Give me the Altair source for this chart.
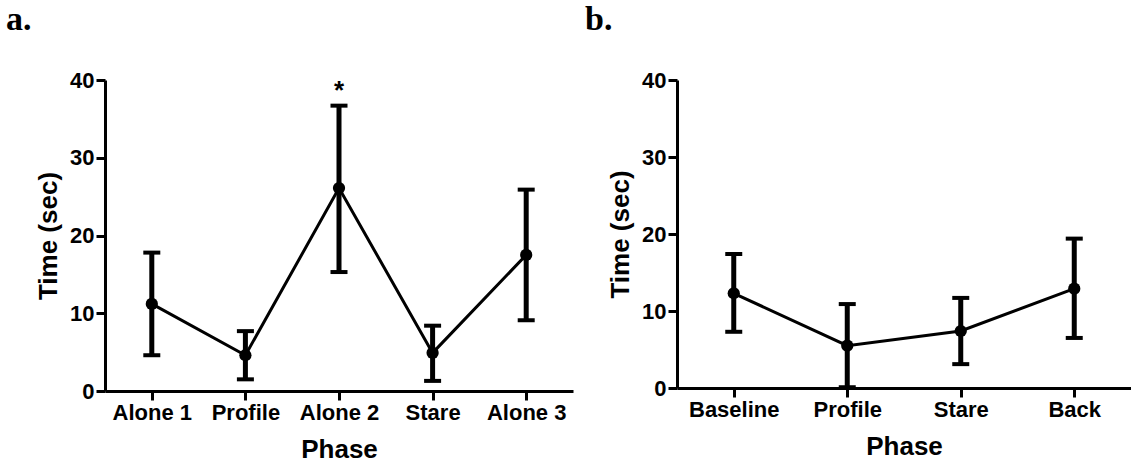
import altair as alt
import pandas as pd

# ---- data ----
phases_a = ["Alone 1", "Profile", "Alone 2", "Stare", "Alone 3"]
mean_a = [11.2, 4.6, 26.1, 4.9, 17.5]
upper_a = [17.8, 7.7, 36.7, 8.4, 25.9]
lower_a = [4.6, 1.5, 15.3, 1.3, 9.1]

phases_b = ["Baseline", "Profile", "Stare", "Back"]
mean_b = [12.3, 5.5, 7.4, 12.9]
upper_b = [17.4, 10.9, 11.7, 19.4]
lower_b = [7.3, 0.1, 3.1, 6.5]

sig_phase = ["Alone 2"]
sig_text = ["*"]
sig_y = [36.7]

y_ticks = [0, 10, 20, 30, 40]

FONT = "Liberation Sans"


def panel(phases, mean, upper, lower, title, width, height, title_dx, sig=None):
    df = pd.DataFrame({"phase": phases, "mean": mean, "hi": upper, "lo": lower})
    x = alt.X(
        "phase:N",
        sort=phases,
        scale=alt.Scale(type="point", padding=0.5),
        axis=alt.Axis(title="Phase", labelAngle=0),
    )
    y = alt.Y(
        "mean:Q",
        scale=alt.Scale(domain=[0, 40], nice=False, zero=True),
        axis=alt.Axis(title="Time (sec)", values=y_ticks),
    )
    base = alt.Chart(df)
    line = base.mark_line(color="black", strokeWidth=3).encode(x=x, y=y)
    bar = base.mark_rule(color="black", strokeWidth=5, opacity=1).encode(
        x=x, y=alt.Y("lo:Q"), y2="hi:Q"
    )
    cap_hi = base.mark_tick(color="black", thickness=4, size=17, opacity=1).encode(
        x=x, y=alt.Y("hi:Q"))
    cap_lo = base.mark_tick(color="black", thickness=4, size=17, opacity=1).encode(
        x=x, y=alt.Y("lo:Q"))
    pts = base.mark_point(filled=True, color="black", size=150, opacity=1).encode(x=x, y=y)
    layers = [bar, cap_hi, cap_lo, line, pts]
    if sig is not None:
        sdf = pd.DataFrame({"phase": sig[0], "txt": sig[1], "y": sig[2]})
        star = alt.Chart(sdf).mark_text(
            font=FONT, fontSize=26, fontWeight="bold", color="black",
            baseline="alphabetic", dy=-7,
        ).encode(x=alt.X("phase:N", sort=phases), y=alt.Y("y:Q"), text="txt:N")
        layers.append(star)
    return alt.layer(*layers).properties(
        width=width,
        height=height,
        title=alt.TitleParams(
            title, anchor="start", frame="group", font="Liberation Serif",
            fontSize=34, fontWeight="bold", color="black", offset=32, dx=title_dx,
        ),
    )


pa = panel(phases_a, mean_a, upper_a, lower_a, "a.", 468, 311, -99,
           sig=(sig_phase, sig_text, sig_y))
pb = panel(phases_b, mean_b, upper_b, lower_b, "b.", 454, 308, -92)

chart = (
    alt.hconcat(pa, pb, spacing=12)
    .properties(padding={"left": 6, "top": 3, "right": 0, "bottom": 0}, background="white")
    .configure_view(stroke=None)
    .configure_axis(
        grid=False,
        domainColor="black", domainWidth=3,
        tickColor="black", tickWidth=3, tickSize=9,
        labelFont=FONT, labelFontSize=22, labelFontWeight="bold", labelColor="black",
        labelPadding=2,
        titleFont=FONT, titleFontSize=26, titleFontWeight="bold", titleColor="black",
    )
    .configure_axisY(titlePadding=8)
    .configure_axisX(titlePadding=13)
)

chart.save("out.html", embed_options={"renderer": "svg", "actions": False})
